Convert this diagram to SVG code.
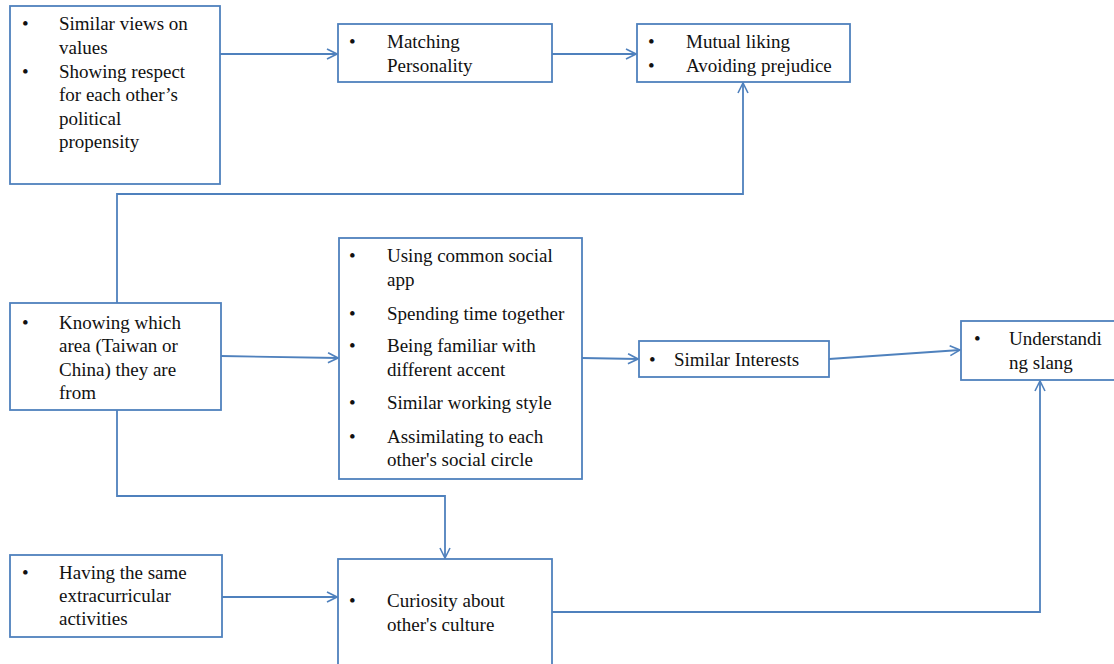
<svg xmlns="http://www.w3.org/2000/svg" width="1114" height="664" viewBox="0 0 1114 664">
<style>
.box{fill:#fff;stroke:#4f81bd;stroke-width:1.8}
.c{fill:none;stroke:#4f81bd;stroke-width:1.8}
text{font-family:"Liberation Serif","Times New Roman",serif;font-size:19px;fill:#111}
</style>
<defs>
<marker id="ar" viewBox="0 0 12 12" refX="11" refY="6" markerWidth="12" markerHeight="12" markerUnits="userSpaceOnUse" orient="auto">
<path d="M1,1 L11,6 L1,11" fill="none" stroke="#4f81bd" stroke-width="1.6"/>
</marker>
</defs>
<rect width="1114" height="664" fill="#fff"/>
<g id="connectors">
<path class="c" d="M220,54 L337,54" marker-end="url(#ar)"/>
<path class="c" d="M552,54 L636,54" marker-end="url(#ar)"/>
<path class="c" d="M117,303 L117,194 L743,194 L743,83" marker-end="url(#ar)"/>
<path class="c" d="M221,356 L338,358" marker-end="url(#ar)"/>
<path class="c" d="M582,358 L638,359" marker-end="url(#ar)"/>
<path class="c" d="M829,359 L960,350" marker-end="url(#ar)"/>
<path class="c" d="M117,410 L117,496 L445,496 L445,558" marker-end="url(#ar)"/>
<path class="c" d="M222,597 L337,597" marker-end="url(#ar)"/>
<path class="c" d="M552,612 L1040,612 L1040,381" marker-end="url(#ar)"/>
</g>
<g id="n1">
<rect class="box" x="10" y="6" width="210" height="178"/>
<text x="22" y="30">•</text><text x="59" y="30">Similar views on</text>
<text x="59" y="54">values</text>
<text x="22" y="78">•</text><text x="59" y="78">Showing respect</text>
<text x="59" y="101">for each other’s</text>
<text x="59" y="125">political</text>
<text x="59" y="148">propensity</text>
</g>
<g id="n2">
<rect class="box" x="338" y="24" width="214" height="58"/>
<text x="349" y="48">•</text><text x="387" y="48">Matching</text>
<text x="387" y="72">Personality</text>
</g>
<g id="n3">
<rect class="box" x="637" y="24" width="213" height="58"/>
<text x="648" y="48">•</text><text x="686" y="48">Mutual liking</text>
<text x="648" y="72">•</text><text x="686" y="72">Avoiding prejudice</text>
</g>
<g id="n4">
<rect class="box" x="10" y="303" width="211" height="107"/>
<text x="22" y="329">•</text><text x="59" y="329">Knowing which</text>
<text x="59" y="352">area (Taiwan  or</text>
<text x="59" y="376">China) they are</text>
<text x="59" y="399">from</text>
</g>
<g id="n5">
<rect class="box" x="339" y="238" width="243" height="241"/>
<text x="349" y="262">•</text><text x="387" y="262">Using common social</text>
<text x="387" y="286">app</text>
<text x="349" y="320">•</text><text x="387" y="320">Spending time together</text>
<text x="349" y="352">•</text><text x="387" y="352">Being familiar with</text>
<text x="387" y="376">different accent</text>
<text x="349" y="409">•</text><text x="387" y="409">Similar working style</text>
<text x="349" y="443">•</text><text x="387" y="443">Assimilating to each</text>
<text x="387" y="466">other's social circle</text>
</g>
<g id="n6">
<rect class="box" x="639" y="341" width="190" height="36"/>
<text x="649" y="366">•</text><text x="674" y="366">Similar  Interests</text>
</g>
<g id="n7">
<rect class="box" x="961" y="321" width="160" height="59"/>
<text x="974" y="345">•</text><text x="1009" y="345">Understandi</text>
<text x="1009" y="369">ng slang</text>
</g>
<g id="n8">
<rect class="box" x="10" y="555" width="212" height="82"/>
<text x="22" y="579">•</text><text x="59" y="579">Having the same</text>
<text x="59" y="602">extracurricular</text>
<text x="59" y="625">activities</text>
</g>
<g id="n9">
<rect class="box" x="338" y="559" width="214" height="120"/>
<text x="349" y="607">•</text><text x="387" y="607">Curiosity about</text>
<text x="387" y="631">other's culture</text>
</g>
</svg>
